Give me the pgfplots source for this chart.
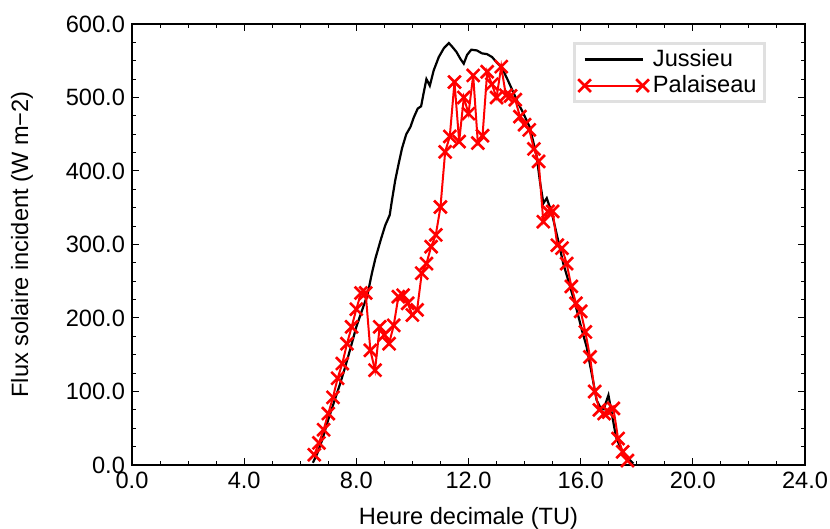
\documentclass[border=0pt]{standalone}
\usepackage{fontspec}
\setmainfont{Liberation Sans}
\usepackage{pgfplots}
\pgfplotsset{compat=1.18}
\begin{document}
\begin{tikzpicture}
\begin{axis}[
  scale only axis,
  width=336.5pt, height=220.5pt,
  xmin=0, xmax=24, ymin=0, ymax=600,
  xtick distance=4, ytick distance=100,
  minor x tick num=3, minor y tick num=3,
  tick align=inside, tick pos=both,
  major tick length=3.5pt, minor tick length=2pt,
  axis line style={line width=0.6pt},
  every tick/.style={line width=0.5pt, black},
  /pgf/number format/.cd, fixed, fixed zerofill, precision=1, assume math mode=true,
  /pgfplots/.cd,
  tick label style={font=\fontsize{11.8}{14}\selectfont},
  label style={font=\fontsize{11.8}{14}\selectfont},
  xlabel={Heure decimale (TU)},
  ylabel={Flux solaire incident (W m−2)},
  xlabel style={at={(axis description cs:0.5,-0.12)}, anchor=center},
  ylabel style={at={(axis description cs:-0.1634,0.5)}, anchor=center},
  legend style={at={(axis description cs:0.655,0.959)}, anchor=north west,
    draw=black!12, line width=1.4pt, font=\fontsize{11.8}{14}\selectfont,
    inner xsep=2pt, inner ysep=1pt, row sep=-1pt},
  legend cell align=left,
  legend image code/.code={\draw[#1] plot coordinates {(0pt,0pt) (29pt,0pt)};},
  clip=true,
]
\addplot[black, line width=1.1pt, no markers] coordinates {
(6.45,3) (6.6,15) (6.8,36) (7.0,62) (7.2,85) (7.4,108) (7.6,133) (7.8,160)
(8.0,188) (8.2,210) (8.4,232) (8.55,260) (8.68,281) (8.86,305) (9.03,326)
(9.19,340) (9.27,360) (9.39,388) (9.51,410) (9.63,431) (9.78,450) (9.93,460)
(10.05,473) (10.19,485) (10.31,488) (10.40,506) (10.50,525) (10.62,516)
(10.76,537) (10.94,555) (11.12,567) (11.3,574) (11.42,569) (11.57,562)
(11.72,552) (11.83,546) (11.95,558) (12.1,565) (12.3,564) (12.48,560)
(12.66,559) (12.84,555) (13.02,547) (13.18,541) (13.36,527) (13.54,512)
(13.75,494) (13.96,478) (14.19,459) (14.43,420) (14.55,385) (14.67,356)
(14.79,363) (14.97,343) (15.2,305) (15.38,274) (15.62,243) (15.86,211)
(16.04,184) (16.21,161) (16.39,125) (16.57,88) (16.69,79) (16.82,76)
(16.99,95) (17.11,70) (17.26,38) (17.46,20) (17.7,9) (17.88,2)
};
\addlegendentry{Jussieu}
\addplot[red, line width=1pt, mark=x, mark size=4.5pt, mark options={line width=1.3pt}] coordinates {
(6.5,14) (6.667,30) (6.833,48) (7.0,70) (7.167,92) (7.333,118) (7.5,138)
(7.667,165) (7.833,188) (8.0,212) (8.167,234) (8.333,234) (8.5,156)
(8.667,129) (8.833,188) (9.0,177) (9.167,165) (9.333,190) (9.5,229)
(9.667,231) (9.833,220) (10.0,204) (10.167,211) (10.333,261) (10.5,274)
(10.667,297) (10.833,313) (11.0,351) (11.167,426) (11.333,447) (11.5,521)
(11.667,440) (11.833,500) (12.0,478) (12.167,530) (12.333,438) (12.5,448)
(12.667,535) (12.833,518) (13.0,500) (13.167,542) (13.333,503) (13.5,502)
(13.667,497) (13.833,474) (14.0,463) (14.167,456) (14.333,430) (14.5,413)
(14.667,331) (14.833,345) (15.0,345) (15.167,299) (15.333,295) (15.5,274)
(15.667,243) (15.833,220) (16.0,209) (16.167,181) (16.333,147) (16.5,100)
(16.667,75) (16.833,70) (17.0,72) (17.167,77) (17.333,36) (17.5,18) (17.667,6)
};
\addlegendentry{Palaiseau}
\coordinate (bbl) at (axis description cs:-0.1961,-0.1451);
\coordinate (btr) at (axis description cs:1.0371,1.0544);
\end{axis}
\pgfresetboundingbox
\path (bbl) rectangle (btr);
\end{tikzpicture}
\end{document}
